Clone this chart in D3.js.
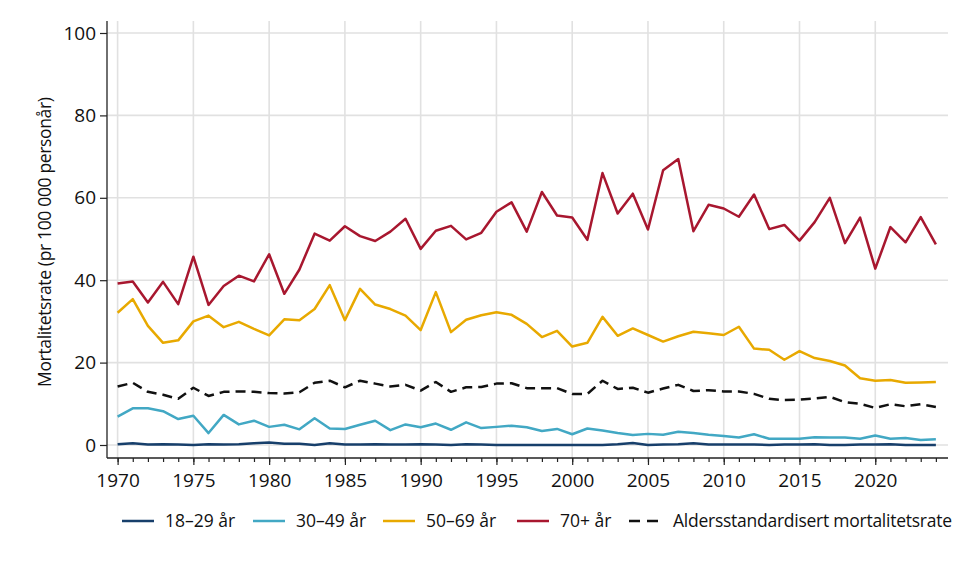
<!DOCTYPE html>
<html>
<head>
<meta charset="utf-8">
<title>Mortalitetsrate</title>
<script src="https://d3js.org/d3.v7.min.js"></script>
<style>
  body { margin: 0; background: white; }
  svg { font-family: "Open Sans", sans-serif; }
</style>
</head>
<body>
<svg id="chart"></svg>
<script>
const years = d3.range(1970, 2025);

const a18_29 = [0.2,0.4,0.1,0.2,0.1,0.0,0.2,0.1,0.2,0.4,0.6,0.3,0.3,0.0,0.4,0.1,0.1,0.2,0.1,0.1,
  0.2,0.1,0.0,0.2,0.1,0.0,0.0,0.0,0.0,0.0,0.0,0.0,0.0,0.2,0.5,0.0,0.1,0.2,0.4,0.1,
  0.1,0.1,0.1,0.0,0.1,0.1,0.2,0.0,0.0,0.1,0.1,0.2,0.0,0.0,0.0];
const a30_49 = [6.9,8.9,8.9,8.2,6.3,7.1,2.9,7.3,5.0,5.9,4.4,4.9,3.8,6.5,4.0,3.9,4.9,5.9,3.6,5.0,
  4.3,5.2,3.7,5.5,4.1,4.4,4.7,4.3,3.4,3.9,2.6,4.0,3.5,2.9,2.4,2.7,2.5,3.2,2.9,2.5,
  2.2,1.8,2.6,1.5,1.5,1.5,1.9,1.8,1.8,1.5,2.3,1.5,1.7,1.2,1.4];
const a50_69 = [32.1,35.4,28.9,24.8,25.4,30.0,31.4,28.6,29.9,28.2,26.6,30.5,30.3,33.0,38.8,30.3,37.9,34.1,33.0,31.4,
  27.9,37.1,27.4,30.4,31.5,32.2,31.6,29.4,26.2,27.7,23.9,24.8,31.1,26.5,28.3,26.7,25.1,26.4,27.5,27.1,
  26.7,28.7,23.4,23.1,20.7,22.8,21.1,20.4,19.3,16.2,15.6,15.8,15.1,15.2,15.3];
const a70 = [39.2,39.7,34.6,39.6,34.2,45.7,34.0,38.6,41.1,39.7,46.3,36.7,42.6,51.3,49.6,53.1,50.7,49.5,51.8,54.9,
  47.6,52.0,53.2,49.9,51.5,56.6,58.9,51.8,61.4,55.7,55.2,49.8,66.0,56.2,61.0,52.3,66.7,69.4,51.9,58.3,
  57.4,55.4,60.8,52.4,53.4,49.6,54.1,60.0,49.0,55.2,42.8,52.9,49.2,55.3,48.7];
const ageStd = [14.2,15.1,12.9,12.2,11.2,13.9,11.9,12.9,13.0,12.9,12.6,12.5,12.8,15.1,15.6,14.0,15.6,14.9,14.2,14.6,
  13.2,15.3,12.9,14.0,14.1,14.9,15.0,13.8,13.8,13.8,12.4,12.4,15.6,13.6,13.9,12.7,13.7,14.6,13.1,13.3,
  13.0,13.0,12.4,11.2,10.9,11.0,11.3,11.7,10.4,10.0,9.0,9.9,9.4,9.9,9.2];

const seriesNames = ["18\u201329 \u00e5r", "30\u201349 \u00e5r", "50\u201369 \u00e5r", "70+ \u00e5r", "Aldersstandardisert mortalitetsrate"];
const seriesValues = [a18_29, a30_49, a50_69, a70, ageStd];
const seriesColors = ["#173f6b", "#42a8c4", "#e8a900", "#a8172f", "#111111"];
const yTicks = [0, 20, 40, 60, 80, 100];
const xTicks = [1970, 1975, 1980, 1985, 1990, 1995, 2000, 2005, 2010, 2015, 2020];
const yTitle = "Mortalitetsrate (pr 100 000 person\u00e5r)";

const width = 970, height = 565;
const svg = d3.select("#chart").attr("width", width).attr("height", height);

const x = d3.scaleLinear().domain([1969.3, 2024.8]).range([107, 948]);
const y = d3.scaleLinear().domain([0, 100]).range([445, 33]);
const axisY = 458, axisX = 107;

// grid
svg.append("g").selectAll("line").data(yTicks).join("line")
  .attr("x1", axisX).attr("x2", 948)
  .attr("y1", d => y(d)).attr("y2", d => y(d))
  .attr("stroke", "#e1e1e1").attr("stroke-width", 1.6);
svg.append("g").selectAll("line").data(xTicks).join("line")
  .attr("x1", d => x(d)).attr("x2", d => x(d))
  .attr("y1", 21).attr("y2", axisY)
  .attr("stroke", "#e1e1e1").attr("stroke-width", 1.6);

// x axis
const xAxis = svg.append("g").attr("transform", `translate(0,${axisY})`);
xAxis.call(d3.axisBottom(x).tickValues(years).tickSize(4).tickFormat(""))
  .call(g => g.select(".domain").remove());
xAxis.append("g")
  .call(d3.axisBottom(x).tickValues(xTicks).tickSize(7).tickPadding(9).tickFormat(d3.format("d")))
  .call(g => g.select(".domain").remove());
xAxis.append("line").attr("x1", axisX).attr("x2", 948).attr("stroke", "#222").attr("stroke-width", 1.3);
xAxis.selectAll(".tick line").attr("stroke", "#222").attr("stroke-width", 1.2);
xAxis.selectAll("text").attr("font-size", 19).attr("fill", "#111")
  .attr("font-family", "Open Sans, sans-serif");

// y axis
const yAxis = svg.append("g").attr("transform", `translate(${axisX},0)`);
yAxis.call(d3.axisLeft(y).tickValues(yTicks).tickSize(7).tickPadding(4))
  .call(g => g.select(".domain").remove());
yAxis.append("line").attr("y1", 21).attr("y2", axisY).attr("stroke", "#222").attr("stroke-width", 1.3);
yAxis.selectAll(".tick line").attr("stroke", "#222").attr("stroke-width", 1.2);
yAxis.selectAll("text").attr("font-size", 19).attr("fill", "#111")
  .attr("font-family", "Open Sans, sans-serif");

svg.append("text")
  .attr("transform", `translate(51,242) rotate(-90)`)
  .attr("text-anchor", "middle")
  .attr("font-size", 17.5).attr("fill", "#111")
  .attr("textLength", 290)
  .text(yTitle);

// lines
const line = d3.line().x((d, i) => x(years[i])).y(d => y(d));
seriesValues.forEach((vals, k) => {
  svg.append("path")
    .datum(vals)
    .attr("d", line)
    .attr("fill", "none")
    .attr("stroke", seriesColors[k])
    .attr("stroke-width", 2.5)
    .attr("stroke-linejoin", "round")
    .attr("stroke-dasharray", k === 4 ? "10,6" : null);
});

// legend
const legendX = [122, 253, 383, 517, 629];
const legendLen = [32, 32, 32, 32, 29];
const legend = svg.append("g");
seriesNames.forEach((name, k) => {
  legend.append("line")
    .attr("x1", legendX[k]).attr("x2", legendX[k] + legendLen[k])
    .attr("y1", 521).attr("y2", 521)
    .attr("stroke", seriesColors[k]).attr("stroke-width", 2.5)
    .attr("stroke-dasharray", k === 4 ? "11,7" : null);
  legend.append("text")
    .attr("x", legendX[k] + legendLen[k] + (k === 4 ? 15 : 11))
    .attr("y", 527)
    .attr("font-size", 17.5).attr("fill", "#111")
    .attr("textLength", k === 4 ? 279 : null)
    .text(name);
});
</script>
</body>
</html>
